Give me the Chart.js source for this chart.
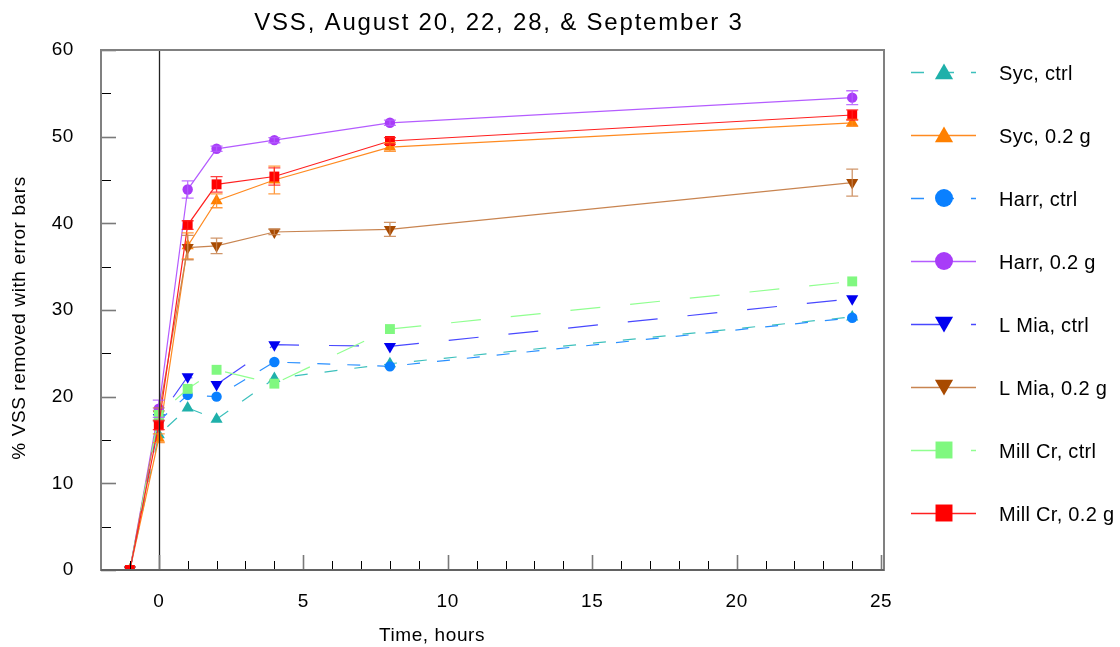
<!DOCTYPE html>
<html>
<head>
<meta charset="utf-8">
<script src="https://cdn.jsdelivr.net/npm/chart.js@4/dist/chart.umd.min.js"></script>
<style>
  html,body{margin:0;padding:0;background:#fff;}
  #wrap{width:1120px;height:647px;}
</style>
</head>
<body>
<div id="wrap"><canvas id="c"></canvas></div>
<script>
// ── データ ───────────────────────────────
const hours    = [-1, 0, 1, 2, 4, 8, 24];
const sycCtrl  = [0, 15.6, 18.7, 17.4, 22.1, 23.8, 29.2];
const syc02    = [0, 15.2, 37.4, 42.6, 45.0, 48.8, 51.6];
const harrCtrl = [0, 17.2, 20.2, 20.0, 24.0, 23.5, 29.1];
const harr02   = [0, 18.6, 43.9, 48.6, 49.6, 51.6, 54.5];
const lmiaCtrl = [0, 17.6, 22.3, 21.4, 26.0, 25.8, 31.3];
const lmia02   = [0, 18.0, 37.2, 37.4, 39.0, 39.3, 44.7];
const millCtrl = [0, 17.9, 20.9, 23.1, 21.5, 27.8, 33.3];
const mill02   = [0, 16.7, 39.8, 44.5, 45.4, 49.5, 52.5];
// error bar half-widths
const sycCtrlErr  = [0, 0, 0, 0, 0, 0, 0];
const syc02Err    = [0, 0.5, 1.5, 0.8, 1.6, 0.5, 0.4];
const harrCtrlErr = [0, 0, 0, 0, 0, 0, 0];
const harr02Err   = [0, 1.0, 1.0, 0.3, 0.3, 0.3, 0.8];
const lmiaCtrlErr = [0, 0, 0, 0, 0, 0, 0];
const lmia02Err   = [0, 0.7, 1.4, 0.9, 0.3, 0.8, 1.55];
const millCtrlErr = [0, 0, 0, 0, 0, 0, 0];
const mill02Err   = [0, 0.5, 0.5, 0.9, 1.0, 0.4, 0.6];

const titleText='VSS, August 20, 22, 28, & September 3';
const xTitle='Time, hours';
const yTitle='% VSS removed with error bars';

const FONT='"Liberation Sans", Arial, Helvetica, sans-serif';
const pts=arr=>hours.map((h,i)=>({x:h,y:arr[i]}));

// label, data, err, line colour, marker colour, shape, rotation, radius, legend radius, dash
const series=[
  ['Syc, ctrl',      sycCtrl, sycCtrlErr, '#3cc0bc','#1fb0aa','triangle',0,  7,10.5,[13,17]],
  ['Syc, 0.2 g',     syc02,   syc02Err,   '#ff8a20','#ff8000','triangle',0,  7,10.5,[]],
  ['Harr, ctrl',     harrCtrl,harrCtrlErr,'#2a90ff','#0a80ff','circle',  0,5.2, 9,[13,17]],
  ['Harr, 0.2 g',    harr02,  harr02Err,  '#b45cff','#a83cf8','circle',  0,5.2, 9,[]],
  ['L Mia, ctrl',    lmiaCtrl,lmiaCtrlErr,'#4848ff','#0000f0','triangle',180,7,10.5,[30,30]],
  ['L Mia, 0.2 g',   lmia02,  lmia02Err,  '#c88450','#a84a00','triangle',180,7,10.5,[]],
  ['Mill Cr, ctrl',  millCtrl,millCtrlErr,'#90ff90','#80f880','rect',    0,  7,12,[30,30]],
  ['Mill Cr, 0.2 g', mill02,  mill02Err,  '#ff2020','#ff0000','rect',    0,  7,12,[]]
];

// 後の系列ほど上に描く（order小＝手前）
const datasets=series.map((s,i)=>({
  label:s[0],data:pts(s[1]),err:s[2],order:series.length-1-i,
  borderColor:s[3],backgroundColor:s[4],pointBackgroundColor:s[4],pointBorderColor:s[4],
  pointStyle:s[5],pointRotation:s[6],pointRadius:s[7],pointBorderWidth:0,
  legR:s[8],borderDash:s[9],borderWidth:1.2,tension:0,showLine:true
}));

function mark(ctx,shape,rot,x,y,r){
  ctx.beginPath();
  if(shape==='circle'){ctx.arc(x,y,r,0,Math.PI*2);}
  else if(shape==='rect'){const s=r*Math.SQRT1_2;ctx.rect(x-s,y-s,2*s,2*s);}
  else{
    let a=rot*Math.PI/180;
    for(let k=0;k<3;k++){
      const px=x+Math.sin(a)*r, py=y-Math.cos(a)*r;
      k?ctx.lineTo(px,py):ctx.moveTo(px,py);
      a+=Math.PI*2/3;
    }
    ctx.closePath();
  }
  ctx.fill();
}

// ── 装飾（枠・目盛・誤差棒・凡例・タイトル）──────
const deco={
  id:'deco',
  beforeDraw(c){c.ctx.letterSpacing='0.6px';},
  afterDatasetsDraw(c){
    const ctx=c.ctx,xs=c.scales.x,ys=c.scales.y;
    ctx.save();
    c.data.datasets.forEach(ds=>{
      ctx.strokeStyle=ds.borderColor;ctx.globalAlpha=.85;ctx.lineWidth=1.3;ctx.setLineDash([]);
      ds.data.forEach((p,i)=>{
        const e=ds.err[i]; if(!e)return;
        const px=xs.getPixelForValue(p.x),y1=ys.getPixelForValue(p.y+e),y2=ys.getPixelForValue(p.y-e);
        ctx.beginPath();
        ctx.moveTo(px,y1);ctx.lineTo(px,y2);
        ctx.moveTo(px-6,y1);ctx.lineTo(px+6,y1);
        ctx.moveTo(px-6,y2);ctx.lineTo(px+6,y2);
        ctx.stroke();
      });
    });
    ctx.restore();
  },
  afterDraw(c){
    const ctx=c.ctx,a=c.chartArea,xs=c.scales.x,ys=c.scales.y;
    ctx.save();
    ctx.setLineDash([]);
    // zero line
    const x0=xs.getPixelForValue(0);
    ctx.strokeStyle='#222';ctx.lineWidth=1.3;
    ctx.beginPath();ctx.moveTo(Math.round(x0)+.5,a.top);ctx.lineTo(Math.round(x0)+.5,a.bottom);ctx.stroke();
    // ticks
    for(let v=0;v<=60;v+=5){
      const py=Math.round(ys.getPixelForValue(v))+.5,maj=v%10===0;
      ctx.strokeStyle=maj?'#7a7a7a':'#000';ctx.lineWidth=maj?1.6:1;
      ctx.beginPath();ctx.moveTo(a.left,py);ctx.lineTo(a.left+(maj?15:10),py);ctx.stroke();
    }
    for(let v=-2;v<=25;v++){
      const px=Math.round(xs.getPixelForValue(v))+.5,maj=v%5===0;
      ctx.strokeStyle=maj?'#7a7a7a':'#000';ctx.lineWidth=maj?1.6:1;
      ctx.beginPath();ctx.moveTo(px,a.bottom);ctx.lineTo(px,a.bottom-(maj?15:9));ctx.stroke();
    }
    // box
    ctx.strokeStyle='#808080';ctx.lineWidth=2;
    ctx.strokeRect(a.left,a.top,a.right-a.left,a.bottom-a.top);
    ctx.strokeStyle='#444';ctx.lineWidth=1.2;
    ctx.beginPath();ctx.moveTo(a.left,a.bottom);ctx.lineTo(a.right,a.bottom);ctx.stroke();
    // legend
    c.data.datasets.forEach((ds,i)=>{
      const y=72+63*i;
      ctx.strokeStyle=ds.borderColor;ctx.lineWidth=1.5;ctx.setLineDash(ds.borderDash);
      ctx.beginPath();ctx.moveTo(911,y+.5);ctx.lineTo(976,y+.5);ctx.stroke();
      ctx.setLineDash([]);
      ctx.fillStyle=ds.pointBackgroundColor;
      mark(ctx,ds.pointStyle,ds.pointRotation,944,y+(ds.pointStyle==='triangle'?(ds.pointRotation?-2:2):0),ds.legR);
      ctx.fillStyle='#000';ctx.font='20px '+FONT;ctx.letterSpacing='0.3px';
      ctx.textAlign='left';ctx.textBaseline='middle';
      ctx.fillText(ds.label,999,y+2);
    });
    // axis titles
    ctx.font='19px '+FONT;ctx.letterSpacing='0.6px';ctx.fillStyle='#000';
    ctx.textAlign='center';ctx.textBaseline='middle';
    ctx.fillText(xTitle,432,636);
    ctx.save();ctx.translate(20,318);ctx.rotate(-Math.PI/2);
    ctx.fillText(yTitle,0,0);
    ctx.restore();
    // title
    ctx.font='24px '+FONT;ctx.letterSpacing='1.8px';
    ctx.fillText(titleText,499,23);
    ctx.restore();
  }
};

new Chart(document.getElementById('c'),{
  type:'line',
  data:{datasets},
  options:{
    responsive:true,maintainAspectRatio:false,animation:false,
    layout:{padding:{top:50,right:236,left:0,bottom:0}},
    plugins:{legend:{display:false},title:{display:false},tooltip:{enabled:false}},
    scales:{
      x:{type:'linear',min:-2,max:25.1,
        afterFit:s=>{s.height=77;},
        grid:{display:false,drawTicks:false},border:{display:false},
        ticks:{stepSize:5,includeBounds:false,padding:20,color:'#000',font:{family:FONT,size:19}}},
      y:{type:'linear',min:0,max:60,
        afterFit:s=>{s.width=101;},
        grid:{display:false,drawTicks:false},border:{display:false},
        ticks:{stepSize:10,padding:27,color:'#000',font:{family:FONT,size:19}}}
    }
  },
  plugins:[deco]
});
</script>
</body>
</html>
